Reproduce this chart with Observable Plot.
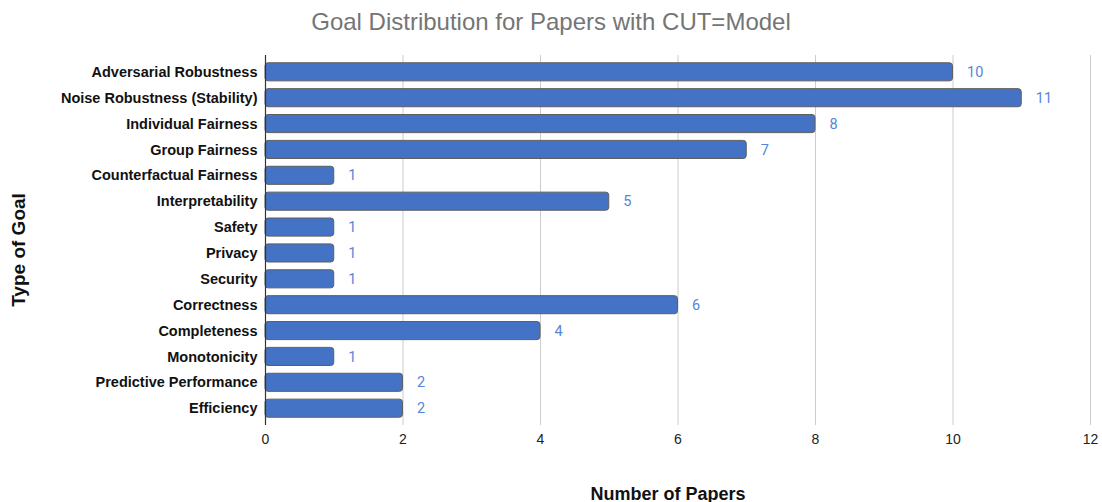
<!DOCTYPE html>
<html>
<head>
<meta charset="utf-8">
<script src="https://cdn.jsdelivr.net/npm/d3@7"></script>
<script src="https://cdn.jsdelivr.net/npm/@observablehq/plot@0.6"></script>
<style>
  html, body { margin: 0; padding: 0; background: #fff; }
  #title {
    height: 46px;
    line-height: 44px;
    text-align: center;
    font-family: "Liberation Sans", Arial, sans-serif;
    font-size: 24px;
    color: #757575;
  }
  #chart svg { display: block; }
</style>
</head>
<body>
<div id="title">Goal Distribution for Papers with CUT=Model</div>
<div id="chart"></div>
<script>
// Goals, in display order from top to bottom
const goals = [
  "Adversarial Robustness",
  "Noise Robustness (Stability)",
  "Individual Fairness",
  "Group Fairness",
  "Counterfactual Fairness",
  "Interpretability",
  "Safety",
  "Privacy",
  "Security",
  "Correctness",
  "Completeness",
  "Monotonicity",
  "Predictive Performance",
  "Efficiency"
];

// Number of papers per goal
const paperCounts = [10, 11, 8, 7, 1, 5, 1, 1, 1, 6, 4, 1, 2, 2];

// X axis ticks
const xTicks = [0, 2, 4, 6, 8, 10, 12];

const rows = goals.map((goal, i) => ({goal, count: paperCounts[i]}));

const chart = Plot.plot({
  width: 1102,
  height: 456,
  marginTop: 9,
  marginBottom: 77,
  marginLeft: 265,
  marginRight: 12,
  style: {fontFamily: "'Liberation Sans', Arial, sans-serif", background: "#fff"},
  x: {domain: [0, 12], ticks: xTicks},
  y: {domain: goals, padding: 0.3, round: false},
  marks: [
    Plot.gridX(xTicks.filter(t => t > 0), {stroke: "#cccccc", strokeOpacity: 1, strokeWidth: 1}),
    Plot.axisX({
      ticks: xTicks,
      tickSize: 0,
      tickPadding: 9,
      fontSize: 14,
      fill: "#222",
      label: "Number of Papers",
      labelAnchor: "center",
      labelArrow: "none",
      labelOffset: 74
    }),
    Plot.axisY({
      tickSize: 0,
      tickPadding: 8,
      fontSize: 14.5,
      fontWeight: "bold",
      fill: "#111",
      label: null
    }),
    Plot.barX(rows, {
      x: "count",
      y: "goal",
      fill: "#4472c4",
      stroke: "#5f5f5f",
      strokeWidth: 1,
      rx: 3
    }),
    Plot.ruleX([0], {stroke: "#333", strokeWidth: 1.2}),
    Plot.text(rows, {
      x: "count",
      y: "goal",
      text: d => String(d.count),
      textAnchor: "start",
      dx: 14,
      fill: "#5585d8",
      fontSize: 14.5,
      fontFamily: "Roboto, sans-serif"
    })
  ]
});

// Axis titles: "Number of Papers" below, "Type of Goal" rotated on the left
const svg = d3.select(chart);
svg.selectAll("[aria-label='x-axis label'] text")
  .attr("font-size", 18)
  .attr("font-weight", "bold")
  .attr("fill", "#111")
  .attr("dx", -10);
svg.append("text")
  .attr("transform", "translate(18,204) rotate(-90)")
  .attr("text-anchor", "middle")
  .attr("dominant-baseline", "central")
  .attr("font-size", 19)
  .attr("font-weight", "bold")
  .attr("fill", "#111")
  .attr("font-family", "'Liberation Sans', Arial, sans-serif")
  .text("Type of Goal");

document.getElementById("chart").appendChild(chart);
</script>
</body>
</html>
